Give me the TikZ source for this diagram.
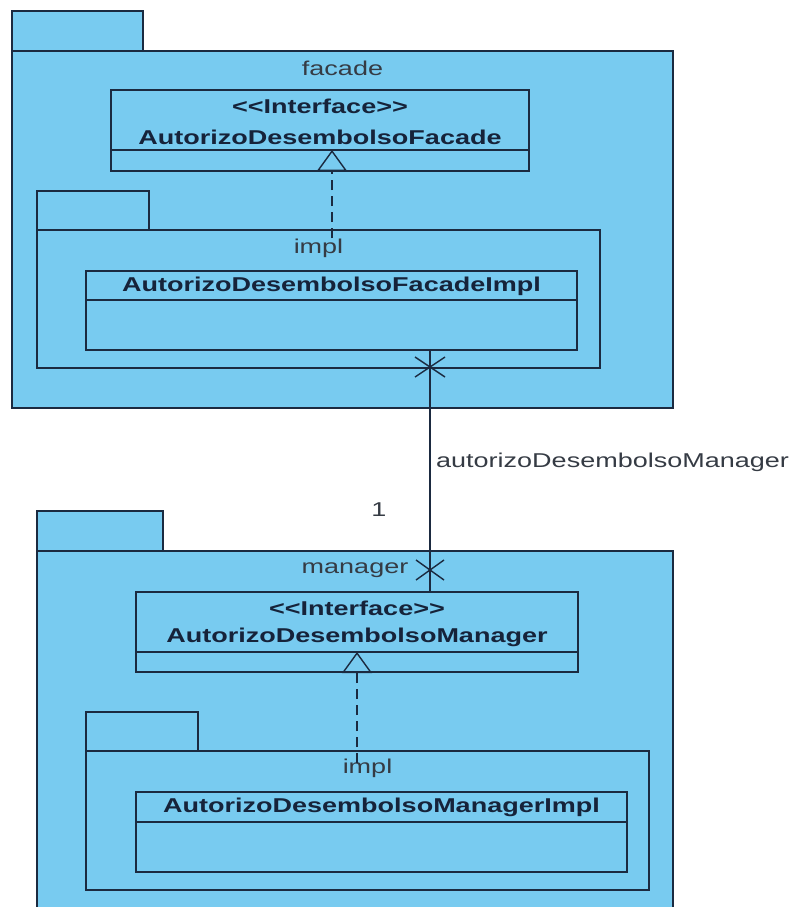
\documentclass[tikz,border=0pt]{standalone}
\usepackage{fontspec}
\newfontfamily\umlfont[FakeStretch=1.35]{Liberation Sans}
\usetikzlibrary{arrows.meta}

\definecolor{pkgfill}{HTML}{78CBF0}
\definecolor{umlline}{HTML}{1B2A40}
\definecolor{umltext}{HTML}{16233A}
\definecolor{lbltext}{HTML}{353B44}

\begin{document}
\begin{tikzpicture}[x=1pt,y=-1pt,
  shapebox/.style={draw=umlline, line width=1.6pt, fill=pkgfill, anchor=north west,
                   inner sep=0pt, outer sep=0pt},
  pkgtext/.style={font=\umlfont\fontsize{20}{22}\selectfont, text=lbltext, inner sep=0pt},
  clsname/.style={font=\umlfont\bfseries\fontsize{20}{22}\selectfont, text=umltext, inner sep=0pt},
  freetext/.style={font=\umlfont\fontsize{20}{22}\selectfont, text=lbltext, inner sep=0pt},
  rule/.style={draw=umlline, line width=1.6pt},
  realize/.style={draw=umlline, line width=1.4pt, dash pattern=on 10pt off 6pt,
                  -{Triangle[open, length=21pt, width=30pt, line width=1.4pt]}},
  assoc/.style={draw=umlline, line width=1.4pt},
  xmark/.style={draw=umlline, line width=1.4pt}]

\useasboundingbox (0,0) rectangle (796,907);
\clip (0,0) rectangle (796,907);

% ---------------- package facade ----------------
\node[shapebox, minimum width=131pt, minimum height=40pt] (ftab) at (12,11) {};
\node[shapebox, minimum width=661pt, minimum height=357pt] (fpkg) at (12,51) {};
\node[pkgtext] (flabel) at (342.5,68) {facade};

\node[shapebox, minimum width=418pt, minimum height=81pt] (fiface) at (111,90) {};
\draw[rule] ([yshift=-60pt]fiface.north west) -- ([yshift=-60pt]fiface.north east);
\node[clsname] (fifaceS) at ([yshift=-16pt]fiface.north) {<<Interface>>};
\node[clsname] (fifaceN) at ([yshift=-47pt]fiface.north) {AutorizoDesembolsoFacade};

\node[shapebox, minimum width=112pt, minimum height=39pt] (fitab) at (37,191) {};
\node[shapebox, minimum width=563pt, minimum height=138pt] (fipkg) at (37,230) {};
\node[pkgtext] (filabel) at (318.5,248) {impl};

\node[shapebox, minimum width=491pt, minimum height=79pt] (fimpl) at (86,271) {};
\draw[rule] ([yshift=-29pt]fimpl.north west) -- ([yshift=-29pt]fimpl.north east);
\node[clsname] (fimplN) at ([yshift=-15pt]fimpl.north) {AutorizoDesembolsoFacadeImpl};

% ---------------- package manager ----------------
\node[shapebox, minimum width=126pt, minimum height=40pt] (mtab) at (37,511) {};
\node[shapebox, minimum width=636pt, minimum height=380pt] (mpkg) at (37,551) {};
\node[pkgtext] (mlabel) at (355,570) {manager};

\node[shapebox, minimum width=442pt, minimum height=80pt] (miface) at (136,592) {};
\draw[rule] ([yshift=-60pt]miface.north west) -- ([yshift=-60pt]miface.north east);
\node[clsname] (mifaceS) at ([yshift=-16pt]miface.north) {<<Interface>>};
\node[clsname] (mifaceN) at ([yshift=-45pt]miface.north) {AutorizoDesembolsoManager};

\node[shapebox, minimum width=112pt, minimum height=39pt] (mitab) at (86,712) {};
\node[shapebox, minimum width=563pt, minimum height=139pt] (mipkg) at (86,751) {};
\node[pkgtext] (milabel) at (367.5,768) {impl};

\node[shapebox, minimum width=491pt, minimum height=80pt] (mimpl) at (136,792) {};
\draw[rule] ([yshift=-30pt]mimpl.north west) -- ([yshift=-30pt]mimpl.north east);
\node[clsname] (mimplN) at ([yshift=-15pt]mimpl.north) {AutorizoDesembolsoManagerImpl};

% ---------------- realizations ----------------
\coordinate (fdashstart) at (332,238);
\coordinate (fdashend) at (332,150);
\draw[realize] (fdashstart) -- (fdashend);

\coordinate (mdashstart) at (357,763);
\coordinate (mdashend) at (357,652);
\draw[realize] (mdashstart) -- (mdashend);

% ---------------- association ----------------
\coordinate (assocx) at (430,0);
\draw[assoc] (fimpl.south -| assocx) -- (miface.north -| assocx);

\coordinate (xtop) at (430,367);
\coordinate (xbot) at (430,570);
\draw[xmark] (xtop) +(-15,-10) -- +(15,10) (xtop) +(-15,10) -- +(15,-10);
\draw[xmark] (xbot) +(-14,-10) -- +(14,10) (xbot) +(-14,10) -- +(14,-10);

\node[freetext, anchor=west] (rolename) at (436,462) {autorizoDesembolsoManager};
\node[freetext] (mult) at (379,510) {1};

\end{tikzpicture}
\end{document}
